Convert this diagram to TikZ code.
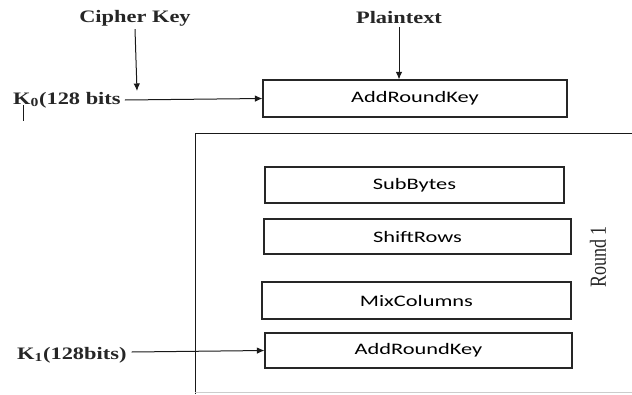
\documentclass[tikz,border=0pt]{standalone}
\usepackage{fontspec}
\setmainfont{Liberation Serif}
\newfontfamily\boxfont{Carlito}
\usetikzlibrary{arrows.meta}
\newcommand{\wideS}[1]{\scalebox{1.28}[1]{#1}}
\newcommand{\wideB}[1]{\scalebox{1.4}[1]{#1}}
\tikzset{
  line/.style={draw=black!90, line width=1pt},
  arr/.style={line, -{Latex[length=7.5pt,width=6.5pt]}},
  stepbox/.style={draw=black!85, line width=1.1pt, inner sep=0pt, anchor=center,
     font=\boxfont\fontsize{16}{18}\selectfont, text=black},
  lbl/.style={inner sep=1pt, font=\bfseries\fontsize{17.5}{20}\selectfont, text=black!85}
}
\begin{document}
\begin{tikzpicture}[x=1pt,y=-1pt]
\useasboundingbox (0,0) rectangle (632,394);
% round frame
\draw[line] (195,394) -- (195,133) -- (632,133);
\draw[black!20, line width=0.8pt] (195,392.5) -- (632,392.5);
% boxes
\node[stepbox, minimum width=304, minimum height=37] (ark0) at (415,98.5) {\wideB{AddRoundKey}};
\node[stepbox, minimum width=299, minimum height=36] (sb) at (414.5,185) {\wideB{SubBytes}};
\node[stepbox, minimum width=307, minimum height=35] (sr) at (417.5,236.5) {\wideB{ShiftRows}};
\node[stepbox, minimum width=309, minimum height=37] (mc) at (416.5,300.5) {\wideB{MixColumns}};
\node[stepbox, minimum width=307, minimum height=35] (ark1) at (418.5,350.5) {\wideB{AddRoundKey}};
% labels
\node[lbl] (ck) at (135,18) {\wideS{Cipher Key}};
\node[lbl] (pt) at (399,18) {\wideS{Plaintext}};
\node[lbl, anchor=west] (k0) at (12,100) {\wideS{K\textsubscript{0}(128 bits}};
\node[lbl, anchor=west] (k1) at (16,355) {\wideS{K\textsubscript{1}(128bits)}};
\node[inner sep=0pt, font=\fontsize{18}{20}\selectfont, text=black!85] (r1) at (598,257) {\scalebox{1.28}[1]{\rotatebox{90}{Round 1}}};
% connectors
\coordinate (ckend) at (137,91);
\draw[arr] (ck.south) ++(0,2) -- (ckend);
\draw[arr] (k0.east) ++(3,0) -- (ark0.west);
\draw[arr] (pt.south) ++(0,2) -- (pt.south |- ark0.north);
\draw[arr] (k1.east) ++(4,-3) -- (ark1.west);
\draw[line] (23,105) -- (23,121);
\end{tikzpicture}
\end{document}
